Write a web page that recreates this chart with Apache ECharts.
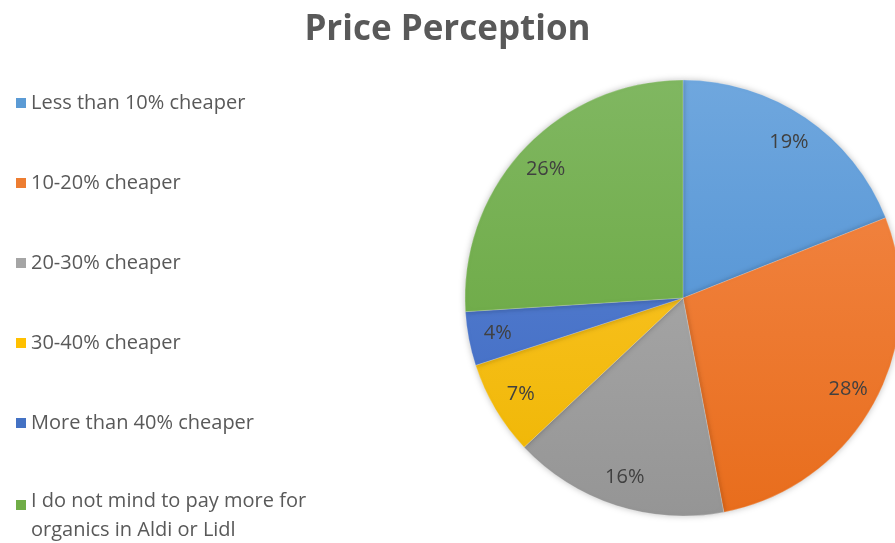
<!DOCTYPE html>
<html><head><meta charset="utf-8">
<script src="https://cdn.jsdelivr.net/npm/echarts@6/dist/echarts.min.js"></script>
<style>html,body{margin:0;padding:0;background:#fff}#c{width:895px;height:543px}</style>
</head><body><div id="c"></div>
<script>
const categories = ["Less than 10% cheaper","10-20% cheaper","20-30% cheaper","30-40% cheaper","More than 40% cheaper","I do not mind to pay more for\norganics in Aldi or Lidl"];
const values = [19, 28, 16, 7, 4, 26];
const topColors = ["#6fa7de","#f48a4c","#b2b2b2","#ffc935","#5e86d3","#80b761"];
const bottomColors = ["#4589cf","#e86d1c","#959595","#eeb500","#3c68c2","#63a337"];
const legendColors = ["#5b9bd5","#ed7d31","#a5a5a5","#ffc000","#4472c4","#70ad47"];

const cx = 683, cy = 298, R = 218;
const font = "Open Sans";
// legend marker: 10x10 square inside a 10x32 box (centred, or at the top for the two-line entry)
const iconMid = 'path://M0 0L0.01 0M0 11L10 11L10 21L0 21ZM0 32L0.01 32';
const iconTop = 'path://M0 0L10 0L10 10L0 10ZM0 32L0.01 32';
const chart = echarts.init(document.getElementById('c'));
const data = categories.map((n,i)=>({
  name:n, value:values[i],
  itemStyle:{ color:{type:'linear',x:0,y:cy-R,x2:0,y2:cy+R,global:true,
    colorStops:[{offset:0,color:topColors[i]},{offset:1,color:bottomColors[i]}]}}
}));
chart.setOption({
  animation:false,
  color: legendColors,
  title:{text:"Price Perception",left:'center',top:8,
    textStyle:{fontFamily:font,fontSize:35,fontWeight:'bold',color:'#595959'}},
  legend:{orient:'vertical',left:11,top:82,height:1000,itemWidth:10,itemHeight:32,itemGap:48,
    symbolKeepAspect:false,
    itemStyle:{borderWidth:0},
    textStyle:{fontFamily:font,fontSize:20,color:'#595959',lineHeight:29},
    data:categories.map((n,i)=>({name:n,icon:i===5?iconTop:iconMid,itemStyle:{color:legendColors[i]}}))},
  series:[{
    type:'pie',center:[cx,cy],radius:[0,R],startAngle:90,clockwise:true,
    label:{show:false},labelLine:{show:false},silent:true,
    itemStyle:{borderColor:'rgba(255,255,255,0.35)',borderWidth:0.6,shadowBlur:6,shadowColor:'rgba(0,0,0,0.25)'},
    data:data
  },{
    type:'pie',center:[cx,cy],radius:[153,R],startAngle:90,clockwise:true,silent:true,
    percentPrecision:0,
    itemStyle:{color:'rgba(0,0,0,0)'},
    label:{show:true,position:'inside',formatter:'{d}%',fontFamily:font,fontSize:20,color:'#404040'},
    labelLine:{show:false},
    data:categories.map((n,i)=>({name:n,value:values[i],itemStyle:{color:'rgba(0,0,0,0)'}})),
    legendHoverLink:false
  }]
});
</script></body></html>
